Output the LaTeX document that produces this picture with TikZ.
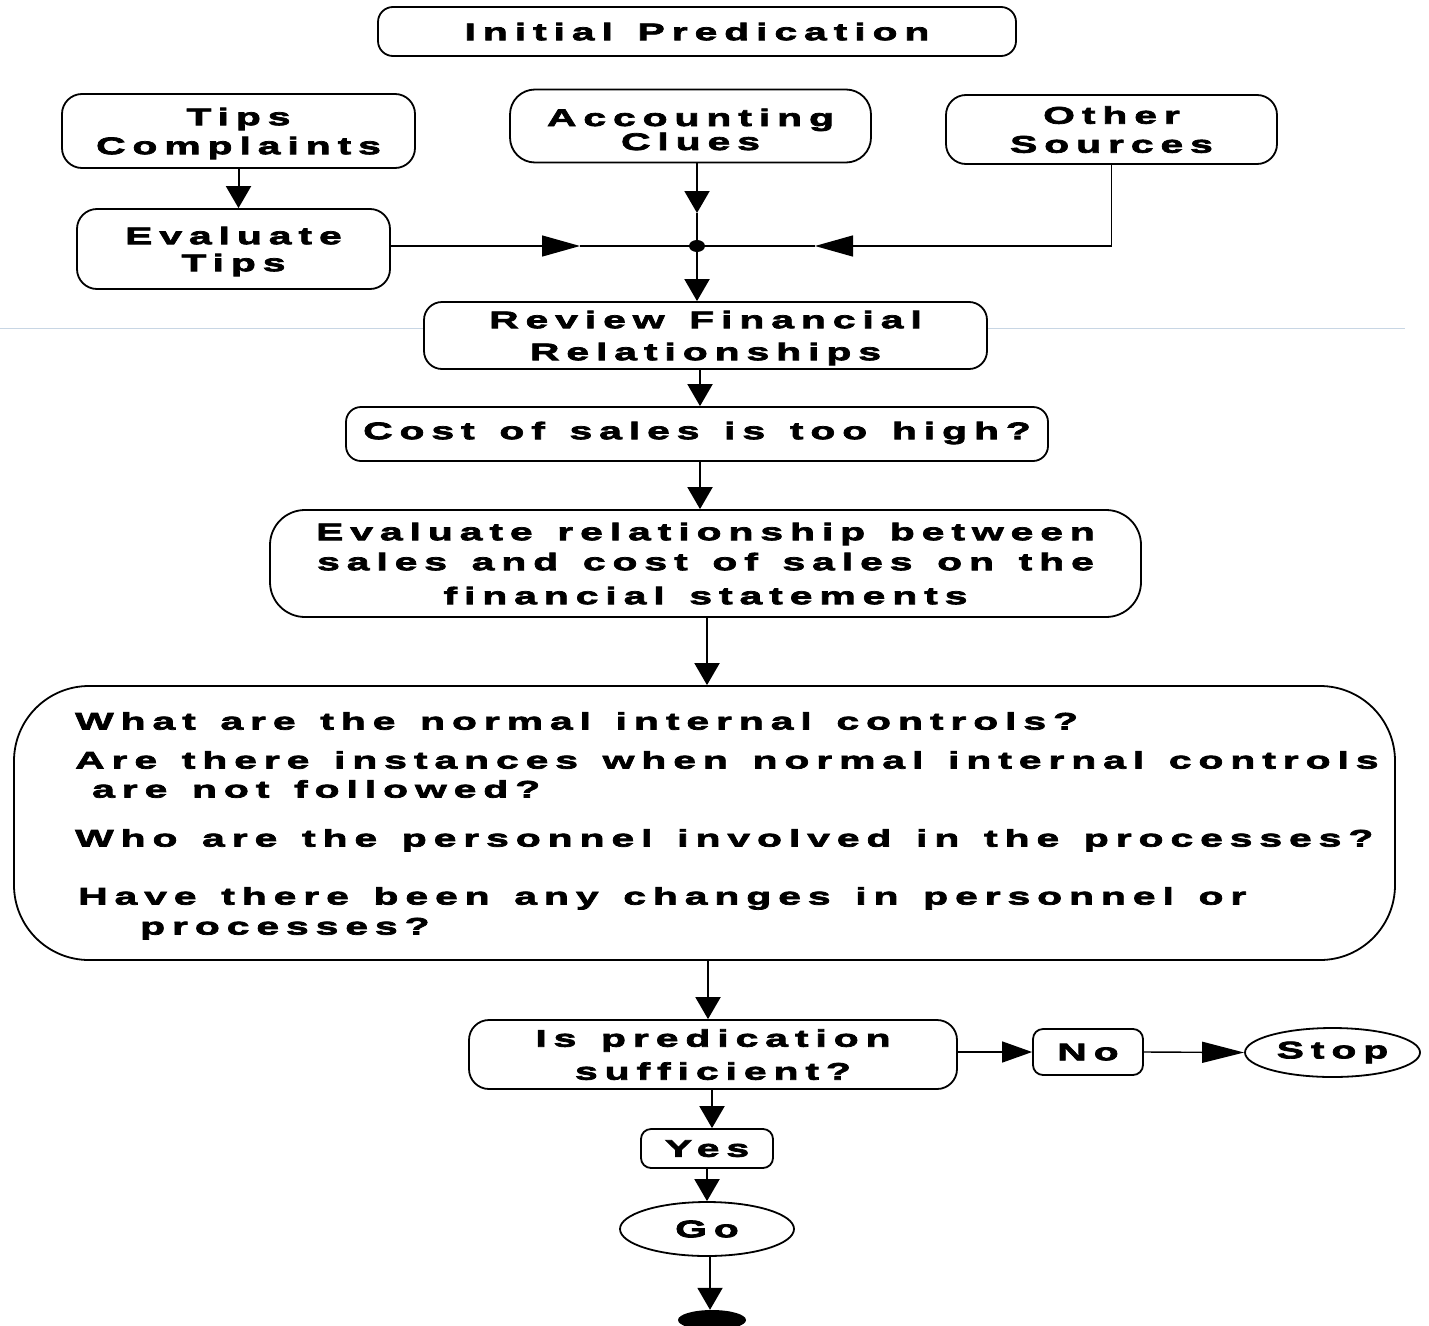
\documentclass[tikz,border=0pt]{standalone}
\usepackage{fontspec}
\newfontfamily\chartfont{Liberation Sans}[UprightFont={* Bold},FakeBold=3,FakeStretch=1.7,LetterSpace=29,WordSpace=1.35]
\usetikzlibrary{arrows.meta,shapes.geometric}

\tikzset{
  txt/.style={font=\chartfont\fontsize{24}{29}\selectfont},
  box/.style={draw, line width=1.8pt, rounded corners=#1, fill=white,
    align=center, inner sep=0pt, text depth=0pt, txt},
  box/.default=15pt,
  oval/.style={draw, ellipse, line width=1.8pt, fill=white, inner sep=0pt, txt},
  arr/.style={line width=2pt, -{Triangle[length=22pt,width=25pt]}},
  harr/.style={line width=1.4pt, -{Triangle[length=#1,width=21pt]}},
  harr/.default=38pt,
  link/.style={line width=1.4pt},
}

\begin{document}
\begin{tikzpicture}[x=1pt, y=-1pt]
  \useasboundingbox (0,0) rectangle (1429,1325);
  % faint guide line behind the boxes
  \draw[line width=0.8pt, color={rgb,255:red,200;green,214;blue,228}] (0,328) -- (1405,328);

  % sources
  \node[box, minimum width=638pt, minimum height=49pt] (init) at (697,31.5) {Initial Predication};
  \node[box=20pt, minimum width=353pt, minimum height=74pt] (tips) at (238.5,131) {Tips\\Complaints};
  \node[box=25pt, minimum width=361pt, minimum height=73pt, text height=48pt] (acc) at (690.5,126) {Accounting\\[-5pt]Clues};
  \node[box=20pt, minimum width=331pt, minimum height=69pt] (other) at (1111.5,129.5) {Other\\Sources};
  \node[box=20pt, minimum width=313pt, minimum height=80pt] (evtips) at (233.5,249) {Evaluate\\[-2pt]Tips};

  % junction
  \node[ellipse, fill, inner sep=0pt, minimum width=16pt, minimum height=12pt] (hub) at (697,246) {};
  \coordinate (accTip) at (697,213);
  \coordinate (tipsTip) at (580,246);
  \coordinate (otherTip) at (815,246);

  \draw[arr] (tips.south) -- (tips.south |- evtips.north);
  \draw[arr] (acc.south -| hub) -- (accTip);
  \draw[link] (accTip) -- (hub);
  \draw[harr] (evtips.east |- hub) -- (tipsTip);
  \draw[link] (tipsTip) -- (hub);
  \draw[harr, line join=miter] (other.south) |- (otherTip);
  \draw[link] (otherTip) -- (hub);

  % review steps
  \node[box=18pt, minimum width=563pt, minimum height=67pt] (review) at (705.5,335.5) {Review Financial\\[3pt]Relationships};
  \node[box=15pt, minimum width=702pt, minimum height=54pt, text depth=7pt] (cost) at (697,434) {Cost of sales is too high?};
  \node[box=35pt, minimum width=871pt, minimum height=107pt] (evrel) at (705.5,563.5)
    {Evaluate relationship between\\[1pt]sales and cost of sales on the\\[5pt]financial statements};
  \node[box=75pt, minimum width=1381pt, minimum height=274pt] (ctrl) at (704.5,823) {};
  \node[txt, align=left, inner sep=0pt, anchor=north west] (ctrlq) at (75,712)
    {What are the normal internal controls?\\[10pt]
     Are there instances when normal internal controls\\
     \hspace*{17pt}are not followed?\\[20pt]
     Who are the personnel involved in the processes?\\[29pt]
     \hspace*{3pt}Have there been any changes in personnel or\\[1pt]
     \hspace*{65pt}processes?};

  \draw[arr] (hub) -- (hub |- review.north);
  \draw[arr] (review.south -| 700,0) -- (cost.north -| 700,0);
  \draw[arr] (cost.south -| 700,0) -- (evrel.north -| 700,0);
  \draw[arr] (evrel.south -| 707,0) -- (ctrl.north -| 707,0);

  % decision
  \node[box=20pt, minimum width=488pt, minimum height=69pt] (suff) at (713,1054.5) {Is predication\\[4pt]sufficient?};
  \node[box=10pt, minimum width=110pt, minimum height=46pt] (no) at (1088,1052) {No};
  \node[oval, minimum width=175pt, minimum height=49pt] (stop) at (1332.5,1052.5) {Stop};
  \node[box=10pt, minimum width=132pt, minimum height=39pt] (yes) at (707,1148.5) {Yes};
  \node[oval, minimum width=174pt, minimum height=54pt] (go) at (707,1229) {Go};
  \node[ellipse, fill, inner sep=0pt, minimum width=68pt, minimum height=20pt] (finish) at (712,1320) {};

  \draw[arr] (ctrl.south -| 708,0) -- (suff.north -| 708,0);
  \draw[harr=30pt] (suff.east |- no) -- (no.west);
  \draw[harr=42pt] (no.east) -- (stop.west);
  \draw[arr] (suff.south -| 712,0) -- (yes.north -| 712,0);
  \draw[arr] (yes.south -| 707,0) -- (go.north -| 707,0);
  \draw[arr] (go.south -| 710,0) -- (finish.north -| 710,0);
\end{tikzpicture}
\end{document}
